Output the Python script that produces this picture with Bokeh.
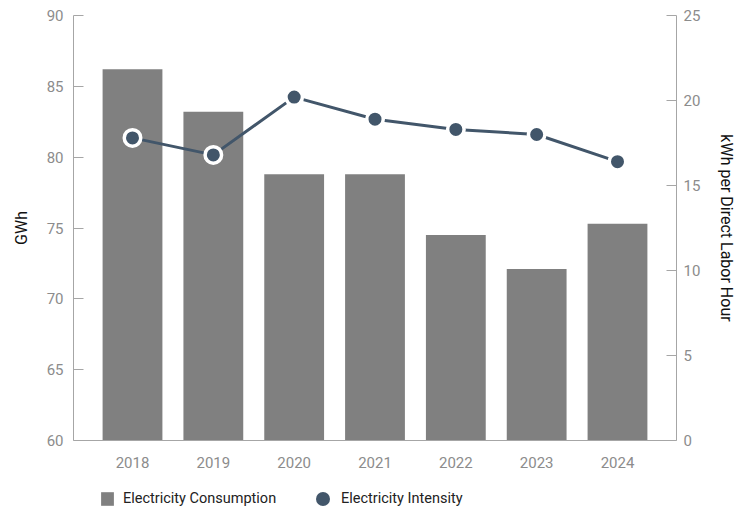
from bokeh.plotting import figure
from bokeh.layouts import column
from bokeh.models import (ColumnDataSource, LinearAxis, Range1d, FactorRange,
                          Legend, LegendItem)
from bokeh.embed import file_html
from bokeh.resources import INLINE

years = ["2018", "2019", "2020", "2021", "2022", "2023", "2024"]
consumption_gwh = [86.2, 83.2, 78.8, 78.8, 74.5, 72.1, 75.3]
intensity_kwh = [17.8, 16.8, 20.2, 18.9, 18.3, 18.0, 16.4]
legend_labels = ["Electricity Consumption", "Electricity Intensity"]

bar_color = "#808080"
line_color = "#42566a"
axis_color = "#a6a6a6"
tick_label_color = "#8c8c8c"
FONT = "Roboto"

src = ColumnDataSource(dict(year=years, gwh=consumption_gwh, kwh=intensity_kwh))

p = figure(width=740, height=470, output_backend="svg", toolbar_location=None,
           x_range=FactorRange(*years, range_padding=0.0657),
           y_range=Range1d(60, 90),
           frame_width=603, frame_height=425,
           min_border_left=73, min_border_right=64, min_border_top=15,
           min_border_bottom=30)
p.outline_line_color = None
p.xgrid.grid_line_color = None
p.ygrid.grid_line_color = None
p.extra_y_ranges = {"right": Range1d(0, 25)}

p.vbar(x="year", top="gwh", bottom=60, width=0.74, source=src,
       fill_color=bar_color, line_color=None)
p.line(x="year", y="kwh", source=src, y_range_name="right",
       line_color=line_color, line_width=3)
p.scatter(x="year", y="kwh", source=src, y_range_name="right", size=16.5,
          fill_color=line_color, line_color="white", line_width=3.5)

# left axis
ya = p.yaxis[0]
ya.axis_label = "GWh"
ya.ticker = [60, 65, 70, 75, 80, 85, 90]
ya.major_tick_in = 10
ya.major_tick_out = 0
ya.minor_tick_line_color = None
ya.axis_line_color = axis_color
ya.major_tick_line_color = axis_color
ya.major_label_text_color = tick_label_color
ya.major_label_text_font = FONT
ya.major_label_text_font_size = "15px"
ya.major_label_standoff = 10
ya.axis_label_text_font = FONT
ya.axis_label_text_font_size = "16px"
ya.axis_label_text_font_style = "normal"
ya.axis_label_text_color = "#111111"
ya.axis_label_standoff = 13

# right axis
ra = LinearAxis(y_range_name="right", axis_label="kWh per Direct Labor Hour",
                ticker=[0, 5, 10, 15, 20, 25])
ra.major_tick_in = 10
ra.major_tick_out = 0
ra.minor_tick_line_color = None
ra.axis_line_color = axis_color
ra.major_tick_line_color = axis_color
ra.major_label_text_color = tick_label_color
ra.major_label_text_font = FONT
ra.major_label_text_font_size = "15px"
ra.major_label_standoff = 7
ra.axis_label_text_font = FONT
ra.axis_label_text_font_size = "16px"
ra.axis_label_text_font_style = "normal"
ra.axis_label_text_color = "#111111"
ra.axis_label_standoff = 14
p.add_layout(ra, "right")

# x axis
xa = p.xaxis[0]
xa.major_tick_line_color = None
xa.minor_tick_line_color = None
xa.axis_line_color = axis_color
xa.major_label_text_color = tick_label_color
xa.major_label_text_font = FONT
xa.major_label_text_font_size = "15px"
xa.major_label_standoff = 10

# legend strip below the chart (its renderers sit outside the visible range)
p2 = figure(width=740, height=42, output_backend="svg", toolbar_location=None,
            x_range=Range1d(0, 1), y_range=Range1d(0, 1), min_border=0)
p2.axis.visible = False
p2.grid.visible = False
p2.outline_line_color = None
hidden = ColumnDataSource(dict(x=[-10], y=[-10], top=[-10]))
lb = p2.vbar(x="x", top="top", bottom=-11, width=0.1, source=hidden,
             fill_color=bar_color, line_color=None)
ls = p2.scatter(x="x", y="y", source=hidden, size=14,
                fill_color=line_color, line_color=None)

common = dict(orientation="horizontal", background_fill_alpha=0,
              border_line_color=None, label_text_font=FONT,
              label_text_font_size="14.5px", label_text_color="#222222",
              padding=0, margin=0)
legend1 = Legend(items=[LegendItem(label=legend_labels[0], renderers=[lb])],
                 location=(26, 5), glyph_width=16, glyph_height=17,
                 label_height=17, label_standoff=8, **common)
legend2 = Legend(items=[LegendItem(label=legend_labels[1], renderers=[ls])],
                 location=(232, -4), glyph_width=35, glyph_height=35,
                 label_height=17, label_standoff=1, **common)
p2.add_layout(legend1, "center")
p2.add_layout(legend2, "center")

layout = column(p, p2, spacing=0)
open("out.html", "w").write(file_html(layout, INLINE))
